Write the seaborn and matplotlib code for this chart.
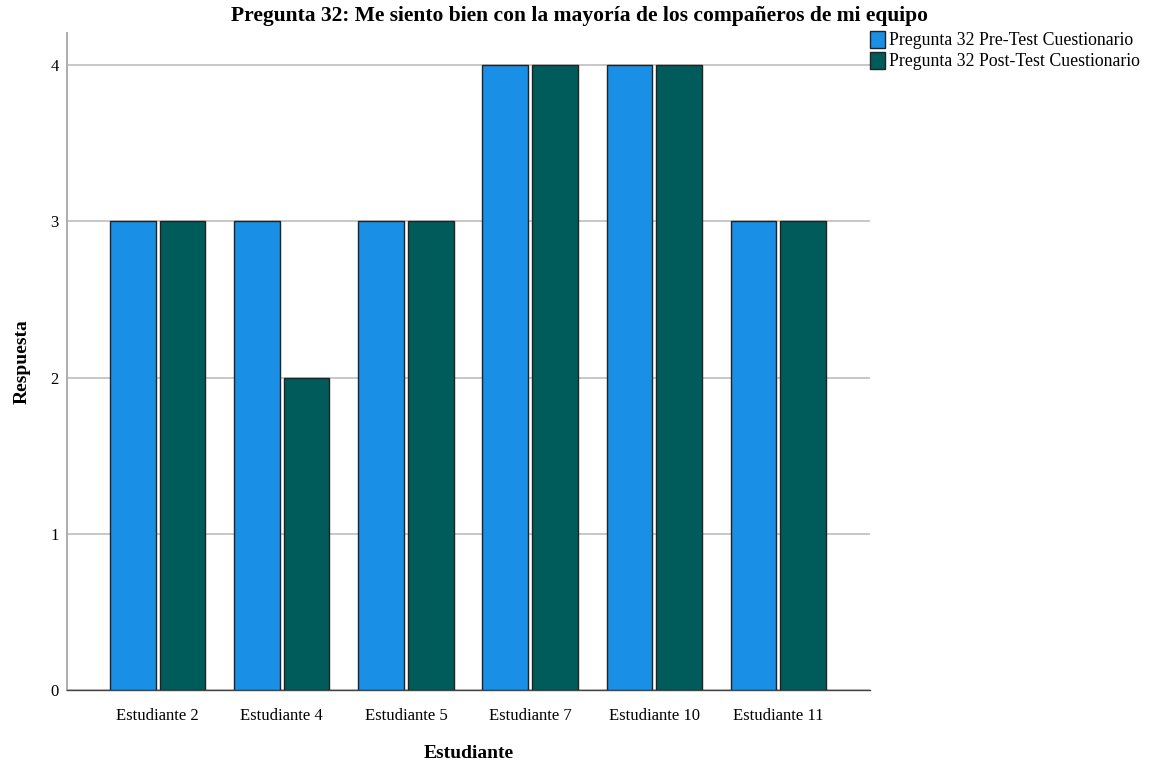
import pandas as pd
import numpy as np
import matplotlib.pyplot as plt
import seaborn as sns

estudiantes = ['Estudiante 2', 'Estudiante 4', 'Estudiante 5', 'Estudiante 7', 'Estudiante 10', 'Estudiante 11']
pre_test = [3, 3, 3, 4, 4, 3]
post_test = [3, 2, 3, 4, 4, 3]
series = ['Pregunta 32 Pre-Test Cuestionario', 'Pregunta 32 Post-Test Cuestionario']
colores = ['#1a8fe6', '#005c5a']

df = pd.DataFrame({
    'Estudiante': estudiantes * 2,
    'Respuesta': pre_test + post_test,
    'Serie': [series[0]] * len(estudiantes) + [series[1]] * len(estudiantes),
})

sns.set_style('white')
plt.rcParams['font.family'] = ['Liberation Serif', 'DejaVu Serif']
plt.rcParams['text.color'] = 'black'
plt.rcParams['axes.labelcolor'] = 'black'
plt.rcParams['xtick.color'] = 'black'
plt.rcParams['ytick.color'] = 'black'

fig = plt.figure(figsize=(11.59, 7.63), dpi=100)
ax = fig.add_axes([0.0578, 0.0957, 0.6928, 0.861])

sns.barplot(data=df, x='Estudiante', y='Respuesta', hue='Serie', palette=colores, saturation=1,
            width=0.8, gap=0.08, edgecolor='#222222', linewidth=1, ax=ax, zorder=3)

ax.set_xlim(-0.729, 5.737)
ax.set_ylim(0, 4.205)
ax.set_yticks([0, 1, 2, 3, 4])
ax.yaxis.grid(True, color='#bdbdbd', linewidth=1.2, zorder=0)
ax.set_axisbelow(True)
ax.tick_params(axis='both', length=0, labelsize=12, pad=6)
ax.tick_params(axis='x', pad=13)
for s in ['top', 'right']:
    ax.spines[s].set_visible(False)
ax.spines['left'].set_color('#b0b0b0')
ax.spines['left'].set_linewidth(1.5)
ax.spines['bottom'].set_color('#444444')
ax.spines['bottom'].set_linewidth(1)

fig.text(0.5, 0.979, 'Pregunta 32: Me siento bien con la mayoría de los compañeros de mi equipo',
         fontsize=15.5, fontweight='bold', ha='center', va='center')
ax.set_xlabel('Estudiante', fontsize=14, fontweight='bold', labelpad=15)
ax.set_ylabel('Respuesta', fontsize=14, fontweight='bold', labelpad=14)

ax.legend(loc='upper left', bbox_to_anchor=(1.0, 1.003), frameon=False, fontsize=12.8,
          handlelength=0.85, handleheight=1.05, handletextpad=0.2, labelspacing=0.15,
          borderaxespad=0, borderpad=0)

fig.savefig('out.png', dpi=100)
